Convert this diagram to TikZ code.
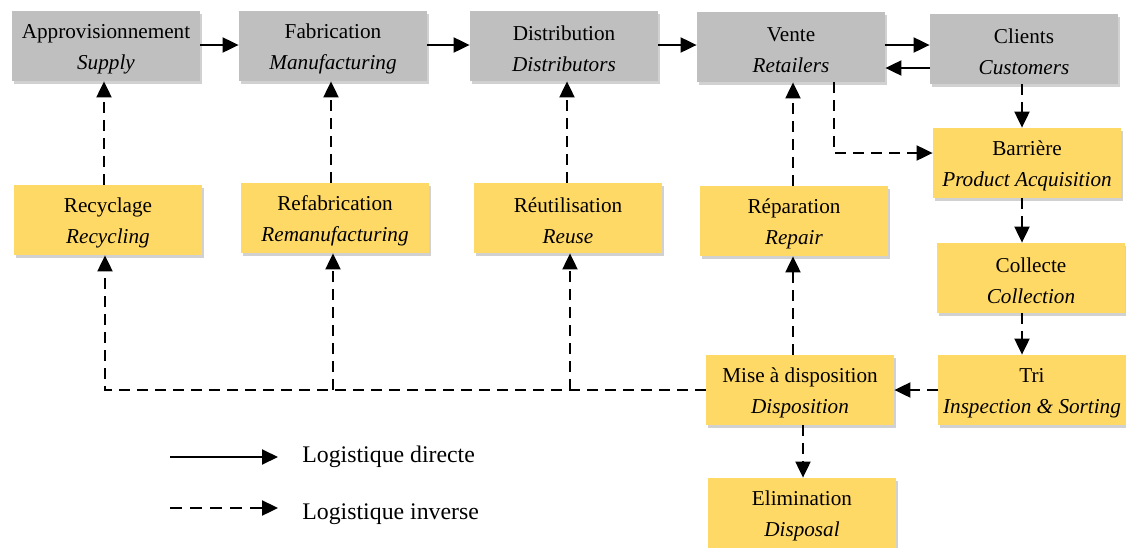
\documentclass[tikz,border=0pt]{standalone}
\usepackage{fontspec}
\setmainfont{Liberation Serif}
\usetikzlibrary{arrows.meta,shadows}
\definecolor{boxgray}{HTML}{BFBFBF}
\definecolor{boxyellow}{HTML}{FFD966}
\newcommand{\twolines}[2]{\rule{0pt}{10.3pt}#1\\\textit{#2}}
\begin{document}
\begin{tikzpicture}[x=0.5pt,y=-0.5pt,
  base/.style={align=center,inner sep=0pt,minimum width=94pt,minimum height=35pt,
    font=\fontsize{10.6}{15.5}\selectfont,
    drop shadow={shadow xshift=0.8pt,shadow yshift=-1.5pt,opacity=0.3,fill=black!60}},
  gbox/.style={base,fill=boxgray},
  ybox/.style={base,fill=boxyellow},
  solidarr/.style={line width=1pt,-{Triangle[length=8pt,width=7.5pt]}},
  dasharr/.style={line width=1pt,dash pattern=on 5.5pt off 3.5pt,-{Triangle[length=8pt,width=7.5pt]}},
  legtext/.style={anchor=west,font=\fontsize{11.9}{14}\selectfont,inner sep=0pt}]
\useasboundingbox (0,0) rectangle (1126,547);
% top row
\node[gbox] (appro) at (106,46) {\twolines{Approvisionnement}{Supply}};
\node[gbox] (fab) at (333,46) {\twolines{Fabrication}{Manufacturing}};
\node[gbox] (dist) at (564,46) {\twolines{Distribution}{Distributors}};
\node[gbox] (vente) at (791,47) {\twolines{Vente}{Retailers}};
\node[gbox] (clients) at (1024,49) {\twolines{Clients}{Customers}};
% second row
\node[ybox] (recy) at (108,220) {\twolines{Recyclage}{Recycling}};
\node[ybox] (refab) at (335,218) {\twolines{Refabrication}{Remanufacturing}};
\node[ybox] (reut) at (568,218) {\twolines{Réutilisation}{Reuse}};
\node[ybox] (repar) at (794,221) {\twolines{Réparation}{Repair}};
\node[ybox] (barr) at (1027,163) {\twolines{Barrière}{Product Acquisition}};
\node[ybox] (coll) at (1031,278) {\twolines{Collecte}{Collection}};
\node[ybox] (tri) at (1032,390) {\twolines{Tri}{Inspection \& Sorting}};
\node[ybox] (mise) at (800,390) {\twolines{Mise à disposition}{Disposition}};
\node[ybox] (elim) at (802,513) {\twolines{Elimination}{Disposal}};
% direct flow
\draw[solidarr] (appro.east |- 0,45) -- (fab.west |- 0,45);
\draw[solidarr] (fab.east |- 0,45) -- (dist.west |- 0,45);
\draw[solidarr] (dist.east |- 0,45) -- (vente.west |- 0,45);
\draw[solidarr] (vente.east |- 0,45) -- (clients.west |- 0,45);
\draw[solidarr] (clients.west |- 0,68) -- (vente.east |- 0,68);
% reverse flow
\draw[dasharr] (recy.north -| 104,0) -- (appro.south -| 104,0);
\draw[dasharr] (refab.north -| 331,0) -- (fab.south -| 331,0);
\draw[dasharr] (reut.north -| 567,0) -- (dist.south -| 567,0);
\draw[dasharr] (repar.north -| 793,0) -- (vente.south -| 793,0);
\draw[dasharr] (vente.south -| 834,0) |- (barr.west |- 0,153);
\draw[dasharr] (clients.south -| 1022,0) -- (barr.north -| 1022,0);
\draw[dasharr] (barr.south -| 1022,0) -- (coll.north -| 1022,0);
\draw[dasharr] (coll.south -| 1022,0) -- (tri.north -| 1022,0);
\draw[dasharr] (tri.west) -- (mise.east);
\draw[dasharr] (mise.west) -| (recy.south -| 105,0);
\draw[dasharr] (mise.west -| 333,0) -- (refab.south -| 333,0);
\draw[dasharr] (mise.west -| 570,0) -- (reut.south -| 570,0);
\draw[dasharr] (mise.north -| 793,0) -- (repar.south -| 793,0);
\draw[dasharr] (mise.south -| 803,0) -- (elim.north -| 803,0);
% legend
\coordinate (ls1) at (170,457);
\coordinate (le1) at (278,457);
\coordinate (ls2) at (170,508);
\coordinate (le2) at (278,508);
\draw[solidarr] (ls1) -- (le1);
\draw[dasharr,line width=1.2pt,dash pattern=on 6pt off 4pt] (ls2) -- (le2);
\node[legtext] (lt1) at (302,457) {Logistique directe};
\node[legtext] (lt2) at (302,514) {Logistique inverse};
\end{tikzpicture}
\end{document}
